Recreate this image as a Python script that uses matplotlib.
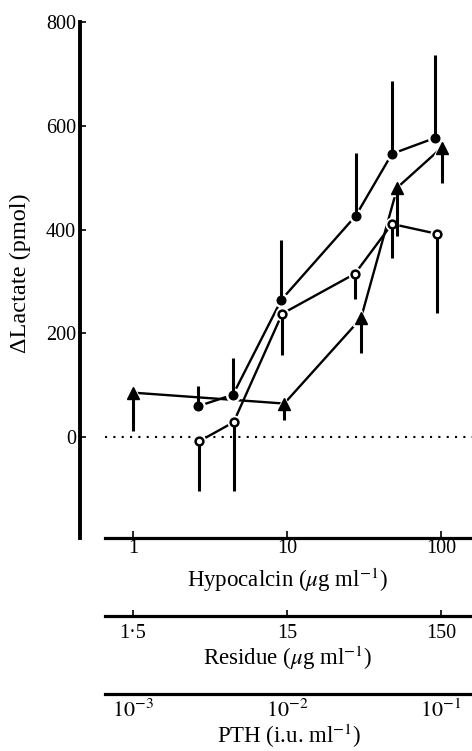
import matplotlib
matplotlib.use("Agg")
import matplotlib.pyplot as plt
from matplotlib.ticker import FixedLocator, FixedFormatter, NullLocator

plt.rcParams["font.family"] = ["Liberation Serif", "DejaVu Serif"]
plt.rcParams["mathtext.fontset"] = "stix"

# hypocalcin dose (ug/ml) and delta lactate (pmol)
filled_x = [2.65, 4.46, 9.2, 28.0, 48.0, 92.0]
filled_y = [60, 82, 265, 427, 546, 577]
filled_err = [38, 70, 115, 121, 141, 160]      # upper bars only

open_x = [2.68, 4.5, 9.3, 27.6, 48.0, 94.0]
open_y = [-8, 29, 238, 315, 411, 392]
open_err = [96, 133, 80, 48, 65, 152]          # lower bars only

tri_x = [1.0, 9.6, 30.2, 52.0, 101.0]
tri_y = [86, 65, 229, 481, 558]
tri_err = [73, 32, 67, 93, 68]                 # lower bars only

y_ticks = [0, 200, 400, 600, 800]
hypo_ticks = [1, 10, 100]
hypo_labels = ["1", "10", "100"]
res_ticks = [1.5, 15, 150]
res_labels = ["1\u00b75", "15", "150"]
pth_ticks = [1e-3, 1e-2, 1e-1]
pth_labels = [r"$10^{-3}$", r"$10^{-2}$", r"$10^{-1}$"]

XLIM = (0.453, 158.9)
YLIM = (-194, 800)
FS = 14.5
LABEL_FS = 16.5

fig = plt.figure(figsize=(4.72, 7.51), dpi=100)
W, H = 472.0, 751.0


def fig_box(x0, y_top, x1, y_bot):
    return [x0 / W, 1 - y_bot / H, (x1 - x0) / W, (y_bot - y_top) / H]


def draw_series(ax, xs, ys, err, upper, marker, ms, filled):
    lo = [0] * len(err) if upper else err
    hi = err if upper else [0] * len(err)
    ax.plot(xs, ys, "-", color="black", lw=1.7, zorder=2)
    # white halo so lines stop short of the symbols, as in the print
    ax.plot(xs, ys, marker, ls="none", ms=ms + 3.5, mfc="white", mec="white",
            zorder=2.5)
    ax.errorbar(xs, ys, yerr=[lo, hi], fmt="none", ecolor="black",
                elinewidth=2.2, capsize=0, zorder=2.7)
    ax.plot(xs, ys, marker, ls="none", ms=ms, mec="black",
            mfc="black" if filled else "white", mew=1.0 if filled else 1.8,
            zorder=3)


ax = fig.add_axes(fig_box(80, 22, 472, 538))
ax.set_xscale("log")
ax.set_xlim(*XLIM)
ax.set_ylim(*YLIM)

# zero line
ax.plot([0.66, XLIM[1]], [0, 0], color="black", lw=1.5,
        linestyle=(0, (1, 3)), zorder=1)

draw_series(ax, filled_x, filled_y, filled_err, True, "o", 6.2, True)
draw_series(ax, open_x, open_y, open_err, False, "o", 5.6, False)
draw_series(ax, tri_x, tri_y, tri_err, False, "^", 8.5, True)

for side in ["top", "right"]:
    ax.spines[side].set_visible(False)
ax.spines["left"].set_linewidth(2.8)
ax.spines["bottom"].set_linewidth(2.3)
ax.spines["bottom"].set_bounds(0.66, XLIM[1])

ax.yaxis.set_major_locator(FixedLocator(y_ticks))
ax.tick_params(axis="y", direction="in", length=4, width=1.2, labelsize=FS, pad=3)
ax.xaxis.set_major_locator(FixedLocator(hypo_ticks))
ax.xaxis.set_major_formatter(FixedFormatter(hypo_labels))
ax.xaxis.set_minor_locator(NullLocator())
ax.tick_params(axis="x", direction="in", length=5, width=1.2, labelsize=FS, pad=1)


def extra_axis(y_line, ticks, labels, tick_len, size, pad):
    a = fig.add_axes(fig_box(80, y_line, 472, y_line))
    a.set_xscale("log")
    lim = (XLIM[0] * ticks[0], XLIM[1] * ticks[0])
    a.set_xlim(*lim)
    a.set_yticks([])
    for side in ["top", "right", "left"]:
        a.spines[side].set_visible(False)
    a.spines["bottom"].set_linewidth(2.3)
    a.spines["bottom"].set_bounds(0.66 * ticks[0], lim[1])
    a.xaxis.set_major_locator(FixedLocator(ticks))
    a.xaxis.set_major_formatter(FixedFormatter(labels))
    a.xaxis.set_minor_locator(NullLocator())
    a.tick_params(axis="x", direction="in", length=tick_len, width=1.2,
                  labelsize=size, pad=pad)
    a.patch.set_visible(False)
    return a


extra_axis(616, res_ticks, res_labels, 4, FS, 6)
extra_axis(694, pth_ticks, pth_labels, 0, 16, 4)

fig.text(20 / W, 1 - 273 / H, "\u0394Lactate (pmol)", rotation=90,
         ha="center", va="center", fontsize=17.5)
fig.text(288 / W, 1 - 580 / H, r"Hypocalcin ($\mu$g ml$^{-1}$)",
         ha="center", va="center", fontsize=LABEL_FS)
fig.text(288 / W, 1 - 658 / H, r"Residue ($\mu$g ml$^{-1}$)",
         ha="center", va="center", fontsize=LABEL_FS)
fig.text(289 / W, 1 - 736 / H, r"PTH (i.u. ml$^{-1}$)",
         ha="center", va="center", fontsize=LABEL_FS)

fig.savefig("out.png", dpi=100)
